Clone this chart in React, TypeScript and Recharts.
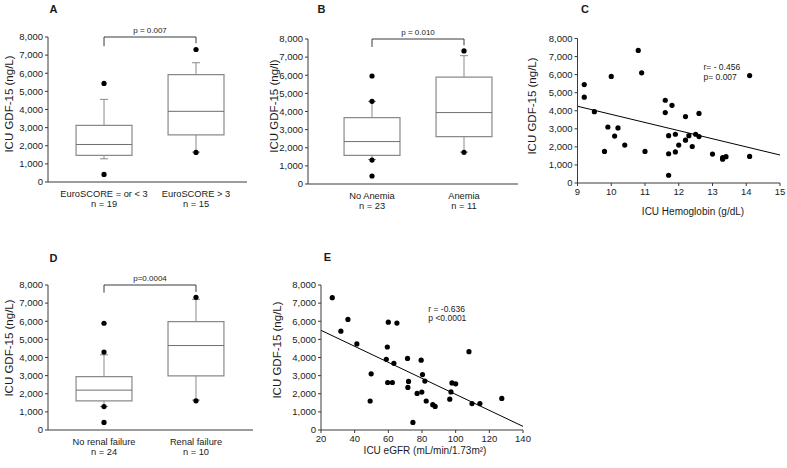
import React from "react";
import { ComposedChart, Scatter, XAxis, YAxis, ReferenceArea, ReferenceLine } from "recharts";

const FONT = 'Arial, "Liberation Sans", Helvetica, sans-serif';
const TICK_FONT = '"Liberation Sans Narrow", "Arial Narrow", Arial, "Liberation Sans", sans-serif';
const AXIS = "#3a3a3a";
const BOX = "#8a8a8a";
const INK = "#1a1a1a";

// shared y axis
const gdfTicks = [0, 1000, 2000, 3000, 4000, 5000, 6000, 7000, 8000];

// A: EuroSCORE
const groupsA = ["EuroSCORE = or < 3", "EuroSCORE > 3"];
const countsA = [19, 15];
const statsA = [
  { min: 1280, q1: 1470, median: 2070, q3: 3120, max: 4560 },
  { min: 1650, q1: 2600, median: 3900, q3: 5920, max: 6580 },
];
const outliersA = [
  [5440, 420],
  [7310, 1630],
];
const bracketA = { left: 7490, right: 7655, top: 8000, text: "p = 0.007" };

// B: anemia
const groupsB = ["No Anemia", "Anemia"];
const countsB = [23, 11];
const statsB = [
  { min: 1350, q1: 1580, median: 2340, q3: 3660, max: 4560 },
  { min: 1760, q1: 2615, median: 3940, q3: 5900, max: 7080 },
];
const outliersB = [
  [5960, 4560, 1320, 440],
  [7340, 1750],
];
const bracketB = { left: 7560, right: 7650, top: 8000, text: "p = 0.010" };

// D: renal failure
const groupsD = ["No renal failure", "Renal failure"];
const countsD = [24, 10];
const statsD = [
  { min: 1300, q1: 1610, median: 2200, q3: 2950, max: 4150 },
  { min: 1650, q1: 2990, median: 4660, q3: 5980, max: 7210 },
];
const outliersD = [
  [5890, 4300, 1290, 420],
  [7320, 1610],
];
const bracketD = { left: 7580, right: 7620, top: 8000, text: "p=0.0004" };

// C: hemoglobin
const hbTicks = [9, 10, 11, 12, 13, 14, 15];
const hbC = [9.2, 9.2, 9.5, 10.0, 10.8, 10.9, 9.9, 10.2, 10.1, 10.4, 9.8, 11.0, 11.6, 11.6, 11.8, 12.2, 12.6, 11.7, 11.7, 11.7, 11.9, 11.9, 12.0, 12.2, 12.3, 12.4, 12.5, 12.6, 13.0, 13.3, 13.3, 13.4, 14.1, 14.1];
const gdfC = [5450, 4750, 3950, 5900, 7340, 6100, 3100, 3050, 2600, 2100, 1750, 1750, 4580, 3900, 4300, 3680, 3850, 2620, 1620, 430, 2700, 1720, 2100, 2370, 2620, 2020, 2700, 2570, 1600, 1400, 1320, 1460, 5950, 1470];
const fitC = [
  { x: 9, y: 4250 },
  { x: 15, y: 1550 },
];

// E: eGFR
const egfrTicks = [20, 40, 60, 80, 100, 120, 140];
const egfrE = [26.7, 31.8, 36.0, 41.3, 49.8, 49.2, 60.0, 65.1, 59.4, 58.8, 63.3, 59.6, 62.4, 71.4, 72.0, 71.6, 77.1, 79.5, 80.3, 81.7, 79.9, 82.5, 86.4, 87.8, 96.5, 97.2, 97.8, 100.0, 107.9, 109.7, 114.4, 127.4, 74.6];
const gdfE = [7300, 5450, 6100, 4750, 3100, 1600, 5950, 5900, 4580, 3900, 3680, 2620, 2620, 3950, 2680, 2350, 2020, 3850, 3060, 2700, 2090, 1600, 1400, 1300, 1700, 2100, 2600, 2550, 4320, 1460, 1460, 1740, 420];
const fitE = [
  { x: 20, y: 5500 },
  { x: 140, y: 200 },
];

const HALF = 0.304;
const CAP = 0.044;

const fmt = (v: number) => v.toLocaleString("en-US");
const tickStyle = { fontSize: 9.5, fill: INK, fontFamily: TICK_FONT };

const Dot = (p: any) => <circle cx={p.cx} cy={p.cy} r={2.6} fill="#000" />;

function Txt({ x, y, children, size = 10, bold = false, rotate = false, left = false }: any) {
  return (
    <div
      style={{
        position: "absolute",
        left: x,
        top: y,
        transform: `translate(${left ? "0" : "-50%"}, -50%)${rotate ? " rotate(-90deg)" : ""}`,
        fontFamily: FONT,
        fontSize: size,
        fontWeight: bold ? 700 : 400,
        color: INK,
        whiteSpace: "nowrap",
        lineHeight: 1,
      }}
    >
      {children}
    </div>
  );
}

function BoxPanel({ left, top, width, height, margin, domain, groups, counts, stats, outliers, bracket }: any) {
  const pts = outliers.flatMap((vals: number[], i: number) => vals.map((y) => ({ x: i + 1, y })));
  const catTick = (p: any) => {
    const i = Math.round(p.payload.value) - 1;
    return (
      <g>
        <text x={p.x} y={p.y + 14.5} textAnchor="middle" fontSize={9.3} fill={INK} fontFamily={FONT}>
          {groups[i]}
        </text>
        <text x={p.x} y={p.y + 24.5} textAnchor="middle" fontSize={9.3} fill={INK} fontFamily={FONT}>
          {`n = ${counts[i]}`}
        </text>
      </g>
    );
  };
  return (
    <div style={{ position: "absolute", left, top }}>
      <ComposedChart width={width} height={height} margin={margin} data={pts}>
        <XAxis
          type="number"
          dataKey="x"
          domain={domain}
          ticks={[1, 2]}
          allowDataOverflow
          tickSize={0}
          tickMargin={0}
          height={30}
          stroke={AXIS}
          tick={catTick}
        />
        <YAxis
          type="number"
          dataKey="y"
          domain={[0, 8000]}
          ticks={gdfTicks}
          allowDataOverflow
          width={margin.yw}
          tickSize={3}
          tickMargin={2}
          stroke={AXIS}
          tick={tickStyle}
          tickFormatter={fmt}
        />
        {stats.map((s: any, i: number) => {
          const c = i + 1;
          return [
            <ReferenceLine key={`wu${i}`} segment={[{ x: c, y: s.q3 }, { x: c, y: s.max }]} stroke={BOX} />,
            <ReferenceLine key={`wl${i}`} segment={[{ x: c, y: s.min }, { x: c, y: s.q1 }]} stroke={BOX} />,
            <ReferenceLine key={`cu${i}`} segment={[{ x: c - CAP, y: s.max }, { x: c + CAP, y: s.max }]} stroke={BOX} />,
            <ReferenceLine key={`cl${i}`} segment={[{ x: c - CAP, y: s.min }, { x: c + CAP, y: s.min }]} stroke={BOX} />,
            <ReferenceArea
              key={`bx${i}`}
              x1={c - HALF}
              x2={c + HALF}
              y1={s.q1}
              y2={s.q3}
              fill="#fff"
              fillOpacity={1}
              stroke={BOX}
              strokeWidth={1.2}
            />,
            <ReferenceLine key={`md${i}`} segment={[{ x: c - HALF, y: s.median }, { x: c + HALF, y: s.median }]} stroke="#6e6e6e" />,
          ];
        })}
        <ReferenceLine segment={[{ x: 1, y: bracket.left }, { x: 1, y: bracket.top }]} stroke={AXIS} ifOverflow="visible" />
        <ReferenceLine
          segment={[{ x: 1, y: bracket.top }, { x: 2, y: bracket.top }]}
          stroke={AXIS}
          ifOverflow="visible"
          label={{ value: bracket.text, position: "top", offset: 4, fontSize: 8, fill: INK, fontFamily: FONT }}
        />
        <ReferenceLine segment={[{ x: 2, y: bracket.top }, { x: 2, y: bracket.right }]} stroke={AXIS} ifOverflow="visible" />
        <Scatter data={pts} dataKey="y" isAnimationActive={false} shape={Dot} />
      </ComposedChart>
    </div>
  );
}

function ScatterPanel({ left, top, width, height, margin, xDomain, xTicks, xs, ys, fit }: any) {
  const pts = xs.map((x: number, i: number) => ({ x, y: ys[i] }));
  return (
    <div style={{ position: "absolute", left, top }}>
      <ComposedChart width={width} height={height} margin={margin} data={pts}>
        <XAxis
          type="number"
          dataKey="x"
          domain={xDomain}
          ticks={xTicks}
          allowDataOverflow
          tickSize={3}
          tickMargin={2}
          height={30}
          stroke={AXIS}
          tick={tickStyle}
        />
        <YAxis
          type="number"
          dataKey="y"
          domain={[0, 8000]}
          ticks={gdfTicks}
          allowDataOverflow
          width={margin.yw}
          tickSize={3}
          tickMargin={2}
          stroke={AXIS}
          tick={tickStyle}
          tickFormatter={fmt}
        />
        <ReferenceLine segment={[fit[0], fit[1]]} stroke="#000" strokeWidth={1} />
        <Scatter data={pts} dataKey="y" isAnimationActive={false} shape={Dot} />
      </ComposedChart>
    </div>
  );
}

export default function App() {
  return (
    <div style={{ position: "relative", width: 787, height: 468, background: "#fff", overflow: "hidden" }}>
      <style>{"body{margin:0;background:#fff}"}</style>

      <BoxPanel
        left={0}
        top={0}
        width={260}
        height={240}
        margin={{ top: 37, right: 13, bottom: 28, left: 0, yw: 48 }}
        domain={[0.391, 2.554]}
        groups={groupsA}
        counts={countsA}
        stats={statsA}
        outliers={outliersA}
        bracket={bracketA}
      />
      <BoxPanel
        left={260}
        top={0}
        width={260}
        height={240}
        margin={{ top: 39, right: 2, bottom: 26, left: 0, yw: 48 }}
        domain={[0.304, 2.587]}
        groups={groupsB}
        counts={countsB}
        stats={statsB}
        outliers={outliersB}
        bracket={bracketB}
      />
      <ScatterPanel
        left={520}
        top={0}
        width={267}
        height={240}
        margin={{ top: 38.5, right: 7, bottom: 27, left: 0, yw: 57.5 }}
        xDomain={[9, 15]}
        xTicks={hbTicks}
        xs={hbC}
        ys={gdfC}
        fit={fitC}
      />
      <BoxPanel
        left={0}
        top={240}
        width={260}
        height={228}
        margin={{ top: 45, right: 7, bottom: 8, left: 0, yw: 48 }}
        domain={[0.391, 2.62]}
        groups={groupsD}
        counts={countsD}
        stats={statsD}
        outliers={outliersD}
        bracket={bracketD}
      />
      <ScatterPanel
        left={260}
        top={240}
        width={300}
        height={228}
        margin={{ top: 45, right: 37, bottom: 8, left: 0, yw: 61 }}
        xDomain={[20, 140]}
        xTicks={egfrTicks}
        xs={egfrE}
        ys={gdfE}
        fit={fitE}
      />

      <Txt x={53.5} y={8.5} size={11} bold>A</Txt>
      <Txt x={321.5} y={8.5} size={11} bold>B</Txt>
      <Txt x={585} y={8.5} size={11} bold>C</Txt>
      <Txt x={53.5} y={257.5} size={11} bold>D</Txt>
      <Txt x={327.5} y={256.5} size={11} bold>E</Txt>

      <Txt x={10} y={104} size={11.5} rotate>ICU GDF-15 (ng/L)</Txt>
      <Txt x={275} y={106} size={11.5} rotate>ICU GDF-15 (ng/l)</Txt>
      <Txt x={533} y={106} size={11.5} rotate>ICU GDF-15 (ng/L)</Txt>
      <Txt x={10} y={348} size={11.5} rotate>ICU GDF-15 (ng/L)</Txt>
      <Txt x={278} y={350} size={11.5} rotate>ICU GDF-15 (ng/L)</Txt>

      <Txt x={693} y={212} size={10}>ICU Hemoglobin (g/dL)</Txt>
      <Txt x={425} y={450.7} size={10}>ICU eGFR (mL/min/1.73m²)</Txt>

      <Txt x={703.5} y={67.3} size={8.5} left>r= - 0.456</Txt>
      <Txt x={703.5} y={76.7} size={8.5} left>p= 0.007</Txt>
      <Txt x={428.3} y={308.7} size={8.5} left>r = -0.636</Txt>
      <Txt x={428.3} y={317.7} size={8.5} left>p &lt;0.0001</Txt>
    </div>
  );
}
